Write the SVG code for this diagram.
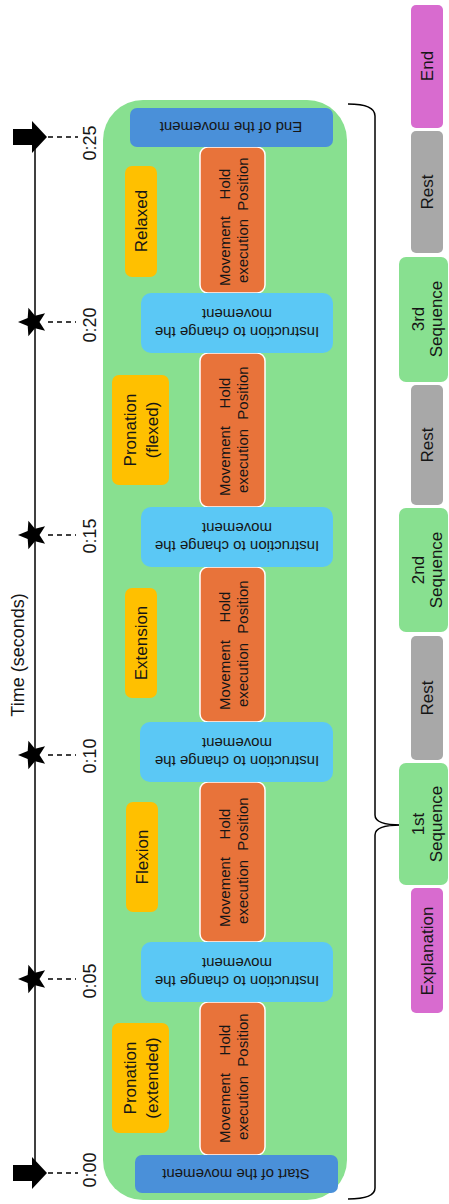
<svg xmlns="http://www.w3.org/2000/svg" width="449" height="1204" viewBox="0 0 449 1204">
<style>
text{font-family:"Liberation Sans",Arial,sans-serif;fill:#161616;text-anchor:middle}
.t18{font-size:18px}
.t17{font-size:17px}
.t15{font-size:15px}
.bg{fill:#88E090}
.ob{fill:#E8733A;stroke:#fff;stroke-width:1.5}
.db{fill:#4A90D9}
.lb{fill:#5BC8F5}
.yb{fill:#FFC000}
.gb{fill:#A8A8A8}
.mb{fill:#D86BCF}
.sq{fill:#88E090}
.line{stroke:#000;stroke-width:1.5;fill:none}
.dash{stroke:#000;stroke-width:1.6;stroke-dasharray:5 4;fill:none}
.mark{fill:#000}
</style>
<defs>
<path id="star" d="M-15,0 L-5.3,-3.9 L-4.6,-14.3 L2,-6.2 L12.1,-8.8 L6.5,0 L12.1,8.8 L2,6.2 L-4.6,14.3 L-5.3,3.9 Z"/>
<path id="arrow" d="M-34,-8 H-15 V-16 L0,0 L-15,16 V8 H-34 Z"/>
</defs>

<g id="timeline-title">
<text class="t18" transform="translate(18,655) rotate(-90)" y="6.3">Time (seconds)</text>
</g>

<g id="connectors">
<line class="line" x1="35" y1="137" x2="35" y2="1173"/>
<line class="dash" x1="48" y1="137" x2="78" y2="137"/>
<line class="dash" x1="48" y1="322" x2="76" y2="322"/>
<line class="dash" x1="48" y1="535" x2="76" y2="535"/>
<line class="dash" x1="48" y1="755" x2="76" y2="755"/>
<line class="dash" x1="48" y1="979" x2="76" y2="979"/>
<line class="dash" x1="48" y1="1173" x2="78" y2="1173"/>
<path class="line" d="M348,104 Q375,104 375,116 V815 Q375,825 401,825 Q375,825 375,835 V1188 Q375,1199 348,1199"/>
</g>

<g id="markers">
<use href="#arrow" class="mark" x="47" y="137"/>
<use href="#arrow" class="mark" x="47" y="1173"/>
<use href="#star" class="mark" x="33" y="322"/>
<use href="#star" class="mark" x="33" y="535"/>
<use href="#star" class="mark" x="33" y="755"/>
<use href="#star" class="mark" x="33" y="979"/>
</g>

<g id="time-labels">
<text class="t18" transform="translate(90,143) rotate(-90)" y="6.3">0:25</text>
<text class="t18" transform="translate(90,325) rotate(-90)" y="6.3">0:20</text>
<text class="t18" transform="translate(90,536) rotate(-90)" y="6.3">0:15</text>
<text class="t18" transform="translate(90,756) rotate(-90)" y="6.3">0:10</text>
<text class="t18" transform="translate(90,981) rotate(-90)" y="6.3">0:05</text>
<text class="t18" transform="translate(90,1170) rotate(-90)" y="6.3">0:00</text>
</g>

<g id="sequence-panel">
<rect class="bg" x="103" y="100" width="244" height="1100" rx="40"/>
</g>

<g id="execution-1">
<rect class="ob" x="200" y="1002" width="65" height="153" rx="8"/>
<text class="t15" transform="translate(234,1108) rotate(-90)"><tspan x="0" y="-3.75">Movement</tspan><tspan x="0" y="14.25">execution</tspan></text>
<text class="t15" transform="translate(234,1040) rotate(-90)"><tspan x="0" y="-3.75">Hold</tspan><tspan x="0" y="14.25">Position</tspan></text>
</g>
<g id="execution-2">
<rect class="ob" x="200" y="782" width="65" height="160" rx="8"/>
<text class="t15" transform="translate(234,892) rotate(-90)"><tspan x="0" y="-3.75">Movement</tspan><tspan x="0" y="14.25">execution</tspan></text>
<text class="t15" transform="translate(234,824) rotate(-90)"><tspan x="0" y="-3.75">Hold</tspan><tspan x="0" y="14.25">Position</tspan></text>
</g>
<g id="execution-3">
<rect class="ob" x="200" y="567" width="65" height="155" rx="8"/>
<text class="t15" transform="translate(234,675) rotate(-90)"><tspan x="0" y="-3.75">Movement</tspan><tspan x="0" y="14.25">execution</tspan></text>
<text class="t15" transform="translate(234,607) rotate(-90)"><tspan x="0" y="-3.75">Hold</tspan><tspan x="0" y="14.25">Position</tspan></text>
</g>
<g id="execution-4">
<rect class="ob" x="200" y="353" width="65" height="154" rx="8"/>
<text class="t15" transform="translate(234,461) rotate(-90)"><tspan x="0" y="-3.75">Movement</tspan><tspan x="0" y="14.25">execution</tspan></text>
<text class="t15" transform="translate(234,393) rotate(-90)"><tspan x="0" y="-3.75">Hold</tspan><tspan x="0" y="14.25">Position</tspan></text>
</g>
<g id="execution-5">
<rect class="ob" x="200" y="147" width="65" height="146" rx="8"/>
<text class="t15" transform="translate(234,251) rotate(-90)"><tspan x="0" y="-3.75">Movement</tspan><tspan x="0" y="14.25">execution</tspan></text>
<text class="t15" transform="translate(234,184) rotate(-90)"><tspan x="0" y="-3.75">Hold</tspan><tspan x="0" y="14.25">Position</tspan></text>
</g>

<g id="start">
<rect class="db" x="135" y="1155" width="203" height="38" rx="7"/>
<text class="t15" transform="translate(236,1174) rotate(180)" y="5.25">Start of the movement</text>
</g>
<g id="end">
<rect class="db" x="130" y="108" width="203" height="39" rx="7"/>
<text class="t15" transform="translate(231,127) rotate(180)" y="5.25">End of the movement</text>
</g>

<g id="instruction-1">
<rect class="lb" x="141" y="942" width="192" height="60" rx="10"/>
<text class="t15" transform="translate(237,972) rotate(180)"><tspan x="0" y="-3.75">Instruction to change the</tspan><tspan x="0" y="14.25">movement</tspan></text>
</g>
<g id="instruction-2">
<rect class="lb" x="140" y="722" width="193" height="60" rx="10"/>
<text class="t15" transform="translate(237,752) rotate(180)"><tspan x="0" y="-3.75">Instruction to change the</tspan><tspan x="0" y="14.25">movement</tspan></text>
</g>
<g id="instruction-3">
<rect class="lb" x="141" y="507" width="192" height="60" rx="10"/>
<text class="t15" transform="translate(237,537) rotate(180)"><tspan x="0" y="-3.75">Instruction to change the</tspan><tspan x="0" y="14.25">movement</tspan></text>
</g>
<g id="instruction-4">
<rect class="lb" x="141" y="293" width="192" height="60" rx="10"/>
<text class="t15" transform="translate(237,323) rotate(180)"><tspan x="0" y="-3.75">Instruction to change the</tspan><tspan x="0" y="14.25">movement</tspan></text>
</g>

<g id="pronation-extended">
<rect class="yb" x="112" y="1023" width="57" height="110" rx="7"/>
<text class="t17" transform="translate(141,1078) rotate(-90)"><tspan x="0" y="-5.05">Pronation</tspan><tspan x="0" y="16.95">(extended)</tspan></text>
</g>
<g id="flexion">
<rect class="yb" x="126" y="802" width="32" height="110" rx="7"/>
<text class="t17" transform="translate(142,857) rotate(-90)" y="5.95">Flexion</text>
</g>
<g id="extension">
<rect class="yb" x="125" y="588" width="32" height="110" rx="7"/>
<text class="t17" transform="translate(141,643) rotate(-90)" y="5.95">Extension</text>
</g>
<g id="pronation-flexed">
<rect class="yb" x="112" y="375" width="57" height="110" rx="7"/>
<text class="t17" transform="translate(141,430) rotate(-90)"><tspan x="0" y="-5.05">Pronation</tspan><tspan x="0" y="16.95">(flexed)</tspan></text>
</g>
<g id="relaxed">
<rect class="yb" x="125" y="166" width="32" height="111" rx="7"/>
<text class="t17" transform="translate(141,221) rotate(-90)" y="5.95">Relaxed</text>
</g>

<g id="legend-end">
<rect class="mb" x="411" y="5" width="32" height="123" rx="5"/>
<text class="t17" transform="translate(427,66) rotate(-90)" y="5.95">End</text>
</g>
<g id="legend-rest-3">
<rect class="gb" x="411" y="131" width="32" height="122" rx="5"/>
<text class="t17" transform="translate(427,192) rotate(-90)" y="5.95">Rest</text>
</g>
<g id="legend-seq-3">
<rect class="sq" x="399" y="257" width="49" height="125" rx="7"/>
<text class="t17" transform="translate(427,319) rotate(-90)"><tspan x="0" y="-3.05">3rd</tspan><tspan x="0" y="14.95">Sequence</tspan></text>
</g>
<g id="legend-rest-2">
<rect class="gb" x="411" y="385" width="32" height="120" rx="5"/>
<text class="t17" transform="translate(427,445) rotate(-90)" y="5.95">Rest</text>
</g>
<g id="legend-seq-2">
<rect class="sq" x="399" y="508" width="49" height="124" rx="7"/>
<text class="t17" transform="translate(427,570) rotate(-90)"><tspan x="0" y="-3.05">2nd</tspan><tspan x="0" y="14.95">Sequence</tspan></text>
</g>
<g id="legend-rest-1">
<rect class="gb" x="411" y="636" width="32" height="124" rx="5"/>
<text class="t17" transform="translate(427,698) rotate(-90)" y="5.95">Rest</text>
</g>
<g id="legend-seq-1">
<rect class="sq" x="399" y="763" width="49" height="122" rx="7"/>
<text class="t17" transform="translate(427,824) rotate(-90)"><tspan x="0" y="-3.05">1st</tspan><tspan x="0" y="14.95">Sequence</tspan></text>
</g>
<g id="legend-explanation">
<rect class="mb" x="411" y="888" width="32" height="125" rx="5"/>
<text class="t17" transform="translate(427,951) rotate(-90)" y="5.95">Explanation</text>
</g>
</svg>
